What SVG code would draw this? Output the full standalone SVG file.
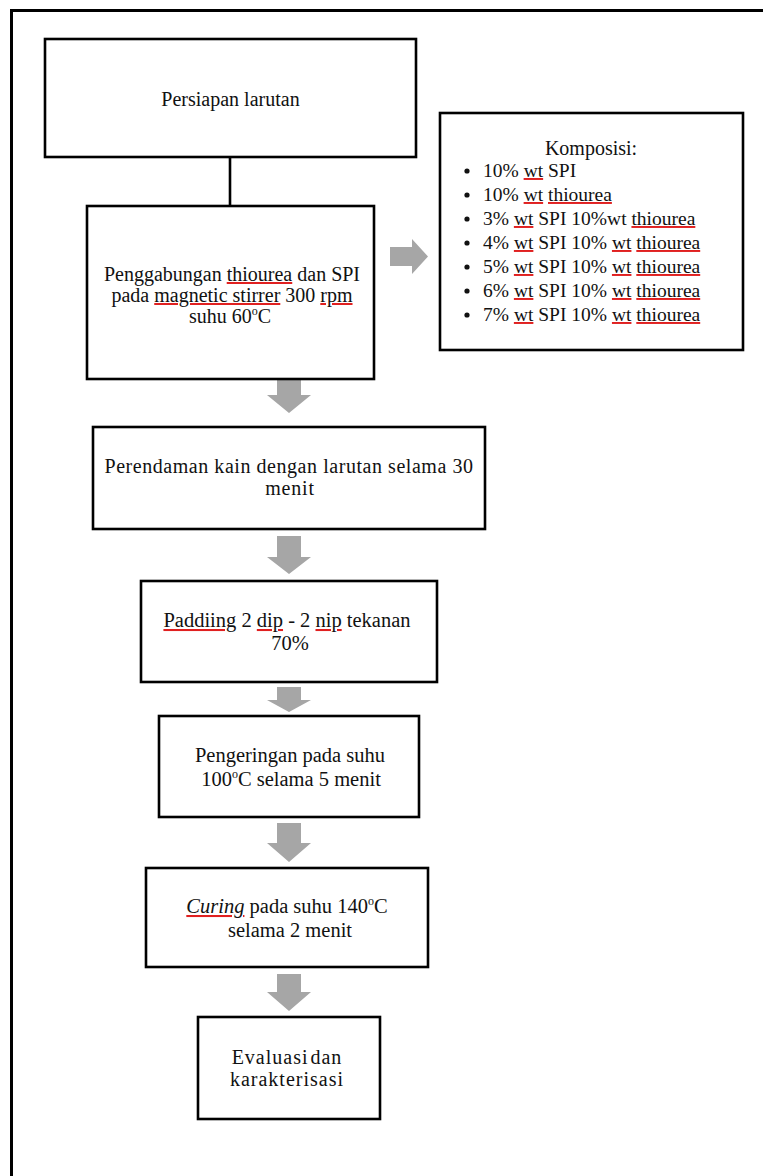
<svg xmlns="http://www.w3.org/2000/svg" width="763" height="1176" viewBox="0 0 763 1176">
<style>
.box{fill:#fff;stroke:#000;stroke-width:2.6}
.t{font-family:"Liberation Serif","Times New Roman",serif;font-size:20px;fill:#111;text-anchor:middle}
.t3{font-size:20.5px}
.l{font-family:"Liberation Serif","Times New Roman",serif;font-size:19.5px;fill:#111}
.arr{fill:#a6a6a6}
.sq{text-decoration:underline;fill:#e02020}
.w{fill:#111}
</style>
<rect x="11.5" y="10.5" width="800" height="1220" fill="#fff" stroke="#000" stroke-width="3"/>
<g id="connectors">
<line x1="230" y1="157" x2="230" y2="206" stroke="#000" stroke-width="2.6"/>
<path class="arr" d="M390,247 H412 V239 L428,256.5 L412,274 V266 H390 Z"/>
<path class="arr" d="M277,380 H301 V395 H311 L289,413 L267,395 H277 Z"/>
<path class="arr" d="M277,536 H301 V557 H311 L289,574 L267,557 H277 Z"/>
<path class="arr" d="M277,687 H301 V700 H311 L289,712 L267,700 H277 Z"/>
<path class="arr" d="M277,823 H301 V843 H311 L289,862 L267,843 H277 Z"/>
<path class="arr" d="M277,974 H301 V992 H311 L289,1011 L267,992 H277 Z"/>
</g>
<g id="n1">
<rect class="box" x="45" y="39" width="371" height="118"/>
<text class="t" x="230.5" y="106">Persiapan larutan</text>
</g>
<g id="n2">
<rect class="box" x="87" y="206" width="287" height="173"/>
<text class="t" x="232" y="281">Penggabungan <tspan class="sq"><tspan class="w">thiourea</tspan></tspan> dan SPI</text>
<text class="t" x="232" y="302">pada <tspan class="sq"><tspan class="w">magnetic stirrer</tspan></tspan> 300 <tspan class="sq"><tspan class="w">rpm</tspan></tspan></text>
<text class="t" x="230" y="323">suhu 60<tspan font-size="12" dy="-8">o</tspan><tspan dy="8">C</tspan></text>
</g>
<g id="n3">
<rect class="box" x="440" y="113" width="303" height="237"/>
<text class="t" x="591" y="155">Komposisi:</text>
<g fill="#111">
<circle cx="467" cy="171" r="2.6"/><circle cx="467" cy="195" r="2.6"/><circle cx="467" cy="219" r="2.6"/><circle cx="467" cy="243" r="2.6"/><circle cx="467" cy="267" r="2.6"/><circle cx="467" cy="291" r="2.6"/><circle cx="467" cy="315" r="2.6"/>
</g>
<text class="l" x="483" y="177">10% <tspan class="sq"><tspan class="w">wt</tspan></tspan> SPI</text>
<text class="l" x="483" y="201">10% <tspan class="sq"><tspan class="w">wt</tspan></tspan> <tspan class="sq"><tspan class="w">thiourea</tspan></tspan></text>
<text class="l" x="483" y="225">3% <tspan class="sq"><tspan class="w">wt</tspan></tspan> SPI 10%wt <tspan class="sq"><tspan class="w">thiourea</tspan></tspan></text>
<text class="l" x="483" y="249">4% <tspan class="sq"><tspan class="w">wt</tspan></tspan> SPI 10% <tspan class="sq"><tspan class="w">wt</tspan></tspan> <tspan class="sq"><tspan class="w">thiourea</tspan></tspan></text>
<text class="l" x="483" y="273">5% <tspan class="sq"><tspan class="w">wt</tspan></tspan> SPI 10% <tspan class="sq"><tspan class="w">wt</tspan></tspan> <tspan class="sq"><tspan class="w">thiourea</tspan></tspan></text>
<text class="l" x="483" y="297">6% <tspan class="sq"><tspan class="w">wt</tspan></tspan> SPI 10% <tspan class="sq"><tspan class="w">wt</tspan></tspan> <tspan class="sq"><tspan class="w">thiourea</tspan></tspan></text>
<text class="l" x="483" y="321">7% <tspan class="sq"><tspan class="w">wt</tspan></tspan> SPI 10% <tspan class="sq"><tspan class="w">wt</tspan></tspan> <tspan class="sq"><tspan class="w">thiourea</tspan></tspan></text>
</g>
<g id="n4">
<rect class="box" x="93" y="427" width="392" height="102"/>
<text class="t" x="289" y="473" letter-spacing="0.55">Perendaman kain dengan larutan selama 30</text>
<text class="t" x="290" y="495" letter-spacing="0.8">menit</text>
</g>
<g id="n5">
<rect class="box" x="141" y="581" width="296" height="101"/>
<text class="t t3" x="287" y="627"><tspan class="sq"><tspan class="w">Paddiing</tspan></tspan> 2 <tspan class="sq"><tspan class="w">dip</tspan></tspan> - 2 <tspan class="sq"><tspan class="w">nip</tspan></tspan> tekanan</text>
<text class="t t3" x="290" y="650">70%</text>
</g>
<g id="n6">
<rect class="box" x="159" y="716" width="260" height="101"/>
<text class="t t3" x="290" y="762">Pengeringan pada suhu</text>
<text class="t t3" x="291" y="786">100<tspan font-size="12" dy="-8">o</tspan><tspan dy="8">C selama 5 menit</tspan></text>
</g>
<g id="n7">
<rect class="box" x="146" y="868" width="282" height="99"/>
<text class="t t3" x="287" y="913"><tspan class="sq" font-style="italic"><tspan class="w">Curing</tspan></tspan> pada suhu 140<tspan font-size="12" dy="-8">o</tspan><tspan dy="8">C</tspan></text>
<text class="t t3" x="290" y="937">selama 2 menit</text>
</g>
<g id="n8">
<rect class="box" x="198" y="1017" width="182" height="102"/>
<text class="t" x="287" y="1064" letter-spacing="1" word-spacing="-4">Evaluasi dan</text>
<text class="t" x="287" y="1086" letter-spacing="1">karakterisasi</text>
</g>
</svg>
